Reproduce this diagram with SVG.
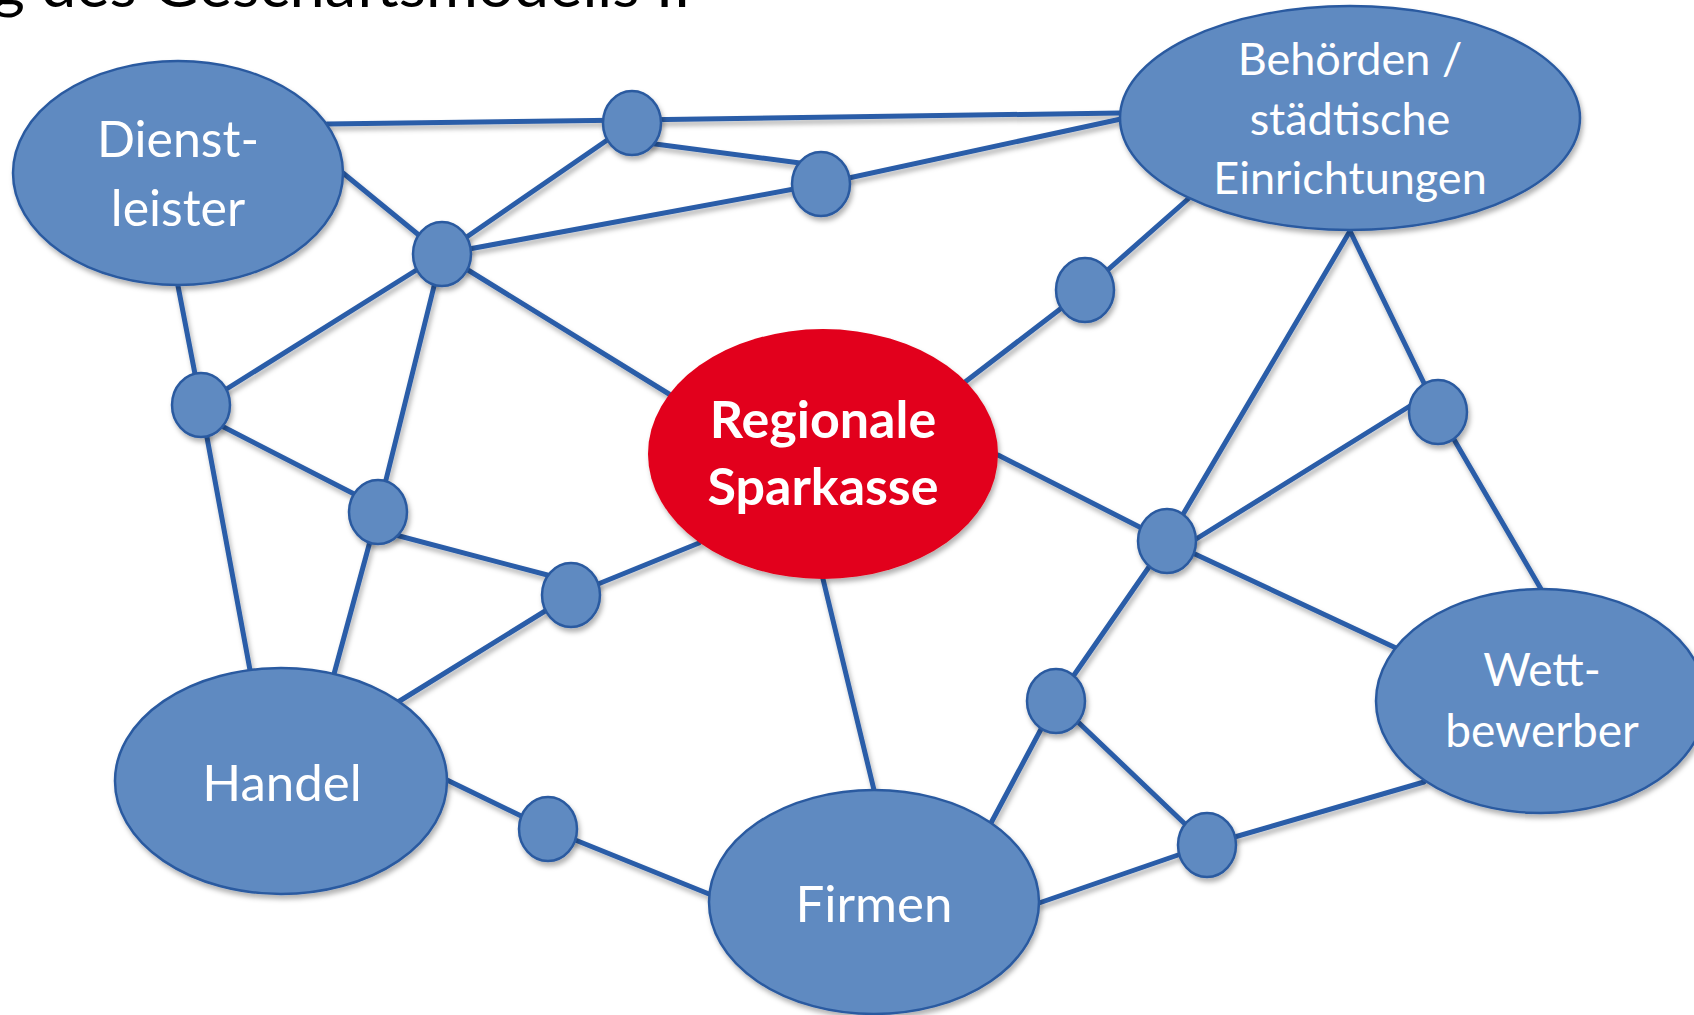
<svg xmlns="http://www.w3.org/2000/svg" width="1694" height="1015" viewBox="0 0 1694 1015">
<style>
.c line{stroke:#2B5DA8;stroke-width:5;stroke-linecap:round}
.big{fill:#5F8AC1;stroke:#2A5AA0;stroke-width:2.5}
.red{fill:#E2001A;stroke:none}
.sm{fill:#5F8AC1;stroke:#2A5AA0;stroke-width:2.5}
.t{font-family:Lato,"Liberation Sans",sans-serif;fill:#fff;text-anchor:middle}
.b{font-weight:bold}
.sh{filter:url(#ds)}
</style>
<defs>
<filter id="ds" x="-20%" y="-20%" width="140%" height="150%">
<feDropShadow dx="2" dy="4" stdDeviation="2.5" flood-color="#000" flood-opacity="0.3"/>
</filter>
</defs>
<rect width="1694" height="1015" fill="#fff"/>
<text x="-8" y="7" font-family="Lato,'Liberation Sans',sans-serif" font-size="60" textLength="699" lengthAdjust="spacingAndGlyphs" fill="#000">g des Geschäftsmodells II</text>
<g id="connectors" class="c sh">
<line x1="327" y1="124" x2="632" y2="120"/>
<line x1="632" y1="120" x2="1120" y2="113"/>
<line x1="640" y1="142" x2="800" y2="163"/>
<line x1="821" y1="184" x2="1121" y2="119"/>
<line x1="632" y1="123" x2="442" y2="254"/>
<line x1="442" y1="254" x2="821" y2="184"/>
<line x1="343" y1="173" x2="442" y2="254"/>
<line x1="442" y1="254" x2="669" y2="394"/>
<line x1="442" y1="254" x2="201" y2="405"/>
<line x1="442" y1="254" x2="378" y2="512"/>
<line x1="378" y1="512" x2="334" y2="674"/>
<line x1="178" y1="286" x2="201" y2="405"/>
<line x1="201" y1="405" x2="250" y2="670"/>
<line x1="210" y1="420" x2="360" y2="497"/>
<line x1="388" y1="533" x2="555" y2="577"/>
<line x1="571" y1="595" x2="699" y2="543"/>
<line x1="571" y1="595" x2="398" y2="702"/>
<line x1="447" y1="780" x2="548" y2="829"/>
<line x1="548" y1="829" x2="709" y2="894"/>
<line x1="823" y1="579" x2="874" y2="790"/>
<line x1="965" y1="382" x2="1085" y2="290"/>
<line x1="1085" y1="290" x2="1188" y2="199"/>
<line x1="998" y1="455" x2="1167" y2="541"/>
<line x1="1167" y1="541" x2="1396" y2="648"/>
<line x1="1350" y1="231" x2="1172" y2="533"/>
<line x1="1167" y1="541" x2="1056" y2="701"/>
<line x1="1056" y1="701" x2="991" y2="823"/>
<line x1="1350" y1="231" x2="1438" y2="412"/>
<line x1="1438" y1="412" x2="1541" y2="589"/>
<line x1="1418" y1="401" x2="1180" y2="549"/>
<line x1="1056" y1="701" x2="1207" y2="845"/>
<line x1="1039" y1="903" x2="1207" y2="845"/>
<line x1="1207" y1="845" x2="1424" y2="782"/>
</g>
<g id="n1" class="sh"><ellipse class="sm" cx="632" cy="123" rx="29" ry="32"/></g>
<g id="n2" class="sh"><ellipse class="sm" cx="821" cy="184" rx="29" ry="32"/></g>
<g id="n3" class="sh"><ellipse class="sm" cx="442" cy="254" rx="29" ry="32"/></g>
<g id="n4" class="sh"><ellipse class="sm" cx="201" cy="405" rx="29" ry="32"/></g>
<g id="n5" class="sh"><ellipse class="sm" cx="378" cy="512" rx="29" ry="32"/></g>
<g id="n6" class="sh"><ellipse class="sm" cx="571" cy="595" rx="29" ry="32"/></g>
<g id="n7" class="sh"><ellipse class="sm" cx="1085" cy="290" rx="29" ry="32"/></g>
<g id="n8" class="sh"><ellipse class="sm" cx="1438" cy="412" rx="29" ry="32"/></g>
<g id="n9" class="sh"><ellipse class="sm" cx="1167" cy="541" rx="29" ry="32"/></g>
<g id="n10" class="sh"><ellipse class="sm" cx="1056" cy="701" rx="29" ry="32"/></g>
<g id="n11" class="sh"><ellipse class="sm" cx="1207" cy="845" rx="29" ry="32"/></g>
<g id="n12" class="sh"><ellipse class="sm" cx="548" cy="829" rx="29" ry="32"/></g>
<g id="dienstleister">
<ellipse class="big sh" cx="178" cy="173" rx="165" ry="112"/>
<text class="t" x="178" y="157" font-size="50">Dienst-</text>
<text class="t" x="178" y="226" font-size="50">leister</text>
</g>
<g id="behoerden">
<ellipse class="big sh" cx="1350" cy="118" rx="230" ry="112"/>
<text class="t" x="1350" y="75" font-size="45">Behörden /</text>
<text class="t" x="1350" y="135" font-size="45">städtische</text>
<text class="t" x="1350" y="194" font-size="45">Einrichtungen</text>
</g>
<g id="sparkasse">
<ellipse class="red sh" cx="823" cy="454" rx="175" ry="125"/>
<text class="t b" x="823" y="438" font-size="52">Regionale</text>
<text class="t b" x="823" y="505" font-size="52">Sparkasse</text>
</g>
<g id="handel">
<ellipse class="big sh" cx="281" cy="781" rx="166" ry="113"/>
<text class="t" x="282" y="801" font-size="51">Handel</text>
</g>
<g id="firmen">
<ellipse class="big sh" cx="874" cy="902" rx="165" ry="112"/>
<text class="t" x="874" y="922" font-size="51">Firmen</text>
</g>
<g id="wettbewerber">
<ellipse class="big sh" cx="1541" cy="701" rx="165" ry="112"/>
<text class="t" x="1542" y="686" font-size="46">Wett-</text>
<text class="t" x="1542" y="747" font-size="46">bewerber</text>
</g>
</svg>
